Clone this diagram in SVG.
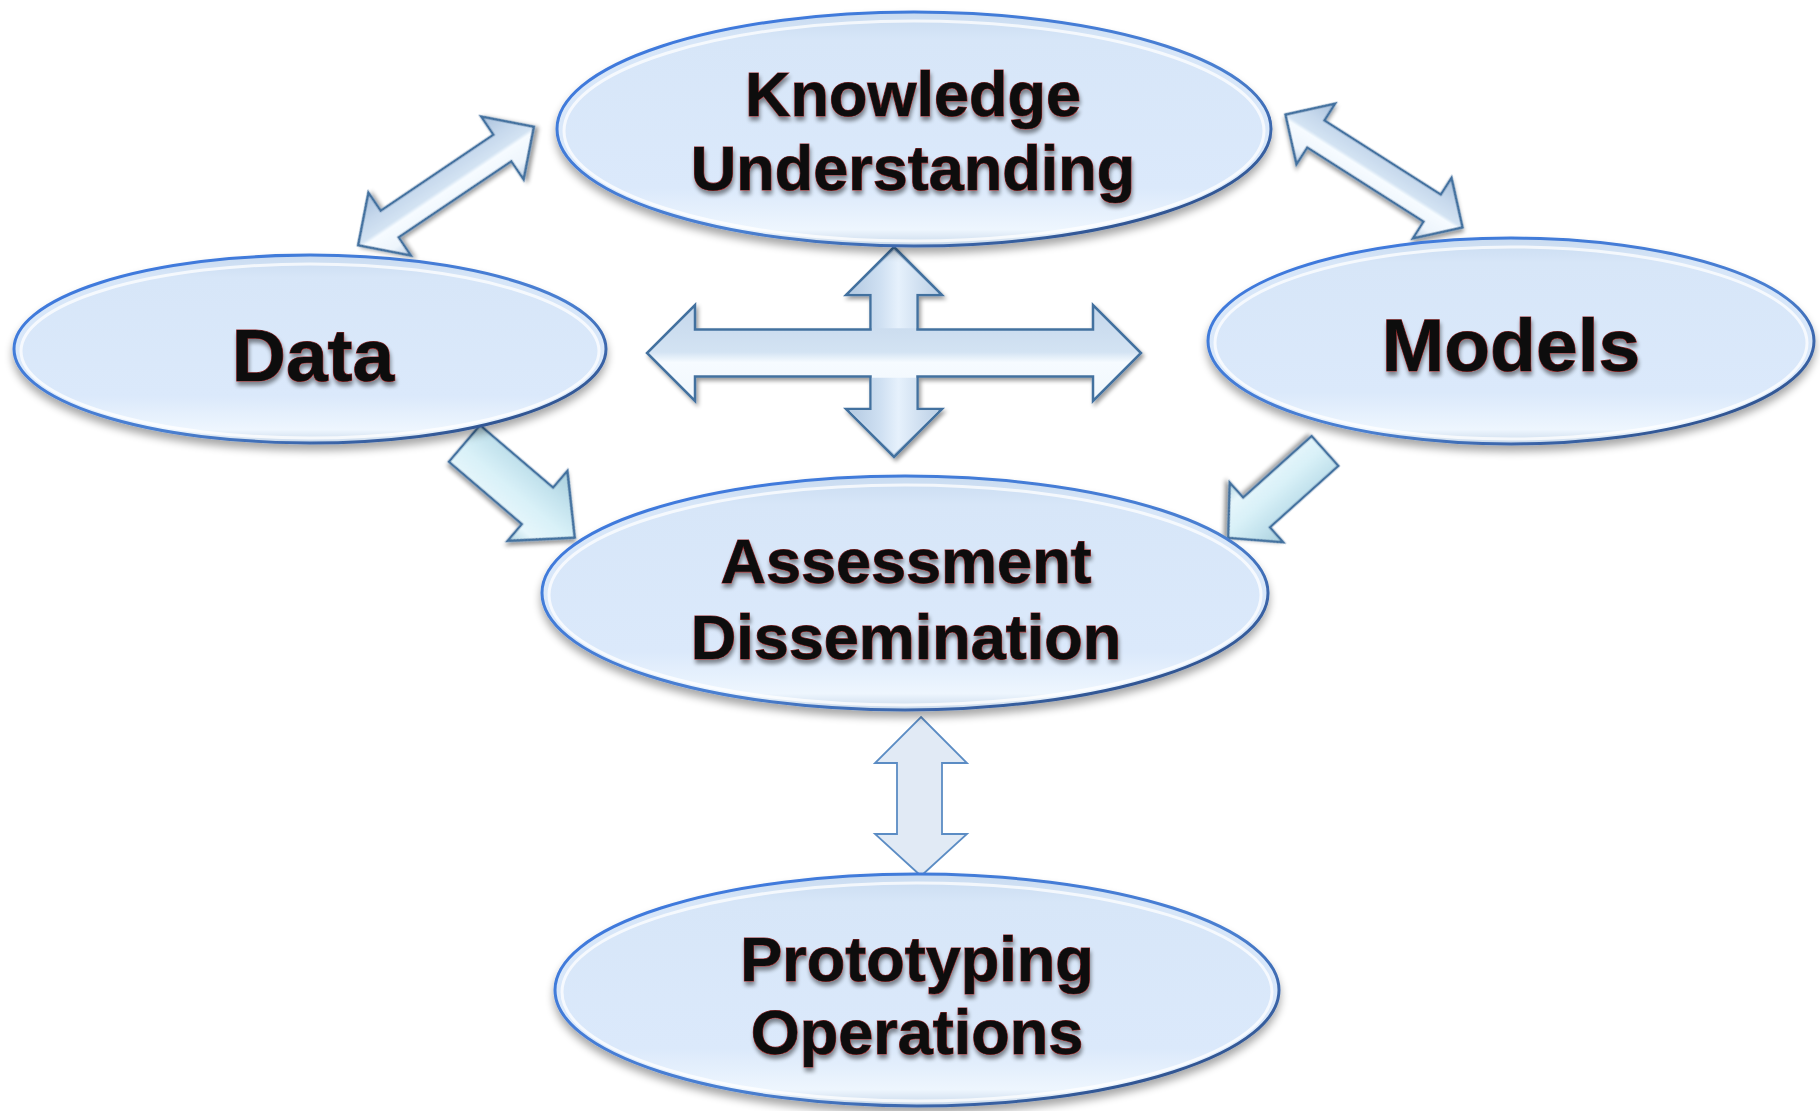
<svg xmlns="http://www.w3.org/2000/svg" width="1820" height="1111" viewBox="0 0 1820 1111">
  <defs>
    <style>
      .node-body { fill: url(#bodyFill); stroke: url(#rimStroke); stroke-width: 3; filter: url(#nodeShadow); }
      .node-rim { fill: none; stroke: #ffffff; stroke-opacity: 0.75; stroke-width: 3; }
      .label { font-family: "Liberation Sans", Arial, sans-serif; font-weight: bold; fill: #0e0e0e; stroke: #9c2a2a; stroke-width: 1.1; paint-order: stroke; text-anchor: middle; filter: url(#textShadow); }
      .big { font-size: 63px; }
      .huge { font-size: 75px; }
      .bevel { fill: url(#bevelBlue); stroke: #43719f; stroke-width: 2.5; stroke-linejoin: miter; filter: url(#arrowShadow); }
      .bevel-teal { fill: url(#bevelTeal); stroke: #43719f; stroke-width: 2.5; stroke-linejoin: miter; filter: url(#arrowShadow); }
      .arm { fill: url(#bevelSide); stroke: none; }
      .flat { fill: #e1eaf5; stroke: #5b8cc4; stroke-width: 1.8; stroke-linejoin: miter; }
    </style>
    <linearGradient id="bodyFill" x1="0" y1="0" x2="0" y2="1">
      <stop offset="0" stop-color="#c9dbf0"/>
      <stop offset="0.12" stop-color="#d7e6f8"/>
      <stop offset="0.75" stop-color="#dbe9fb"/>
      <stop offset="0.93" stop-color="#eef6fe"/>
      <stop offset="1" stop-color="#c8d8ea"/>
    </linearGradient>
    <linearGradient id="rimStroke" x1="0" y1="0" x2="1" y2="1">
      <stop offset="0" stop-color="#3b78e0"/>
      <stop offset="0.6" stop-color="#4a7fd0"/>
      <stop offset="1" stop-color="#243f70"/>
    </linearGradient>
    <linearGradient id="bevelBlue" x1="0" y1="0" x2="0" y2="1">
      <stop offset="0" stop-color="#a9c1dc"/>
      <stop offset="0.3" stop-color="#c6d8ec"/>
      <stop offset="0.5" stop-color="#d3e3f3"/>
      <stop offset="0.55" stop-color="#f6fbff"/>
      <stop offset="0.8" stop-color="#eef5fc"/>
      <stop offset="1" stop-color="#b8cde3"/>
    </linearGradient>
    <linearGradient id="bevelSide" x1="0" y1="0" x2="1" y2="0">
      <stop offset="0" stop-color="#b4cae2"/>
      <stop offset="0.35" stop-color="#cfe0f2"/>
      <stop offset="0.55" stop-color="#e6f1fc"/>
      <stop offset="1" stop-color="#bcd0e6"/>
    </linearGradient>
    <linearGradient id="bevelTeal" x1="0" y1="0" x2="0" y2="1">
      <stop offset="0" stop-color="#a9cfdc"/>
      <stop offset="0.3" stop-color="#c4e3ee"/>
      <stop offset="0.55" stop-color="#d9f1f8"/>
      <stop offset="0.8" stop-color="#e6f6fb"/>
      <stop offset="1" stop-color="#b3d5e2"/>
    </linearGradient>
    <filter id="nodeShadow" x="-10%" y="-10%" width="120%" height="130%">
      <feGaussianBlur in="SourceAlpha" stdDeviation="4"/>
      <feOffset dy="6" result="b"/>
      <feComponentTransfer><feFuncA type="linear" slope="0.35"/></feComponentTransfer>
      <feMerge><feMergeNode/><feMergeNode in="SourceGraphic"/></feMerge>
    </filter>
    <filter id="arrowShadow" x="-20%" y="-20%" width="140%" height="140%">
      <feGaussianBlur in="SourceAlpha" stdDeviation="2"/>
      <feOffset dx="2" dy="3" result="b"/>
      <feComponentTransfer><feFuncA type="linear" slope="0.4"/></feComponentTransfer>
      <feMerge><feMergeNode/><feMergeNode in="SourceGraphic"/></feMerge>
    </filter>
    <filter id="textShadow" x="-10%" y="-20%" width="120%" height="150%">
      <feGaussianBlur in="SourceAlpha" stdDeviation="2"/>
      <feOffset dx="1" dy="4" result="b"/>
      <feComponentTransfer><feFuncA type="linear" slope="0.45"/></feComponentTransfer>
      <feMerge><feMergeNode/><feMergeNode in="SourceGraphic"/></feMerge>
    </filter>
  </defs>

  <rect width="1820" height="1111" fill="#ffffff"/>

  <!-- connectors -->
  <g id="connectors">
    <!-- Data <-> Knowledge -->
    <path class="bevel" transform="translate(446,186) rotate(-34)"
          d="M-106,0 L-68,-38 L-68,-16 L68,-16 L68,-38 L106,0 L68,38 L68,16 L-68,16 L-68,38 Z"/>
    <!-- Knowledge <-> Models -->
    <path class="bevel" transform="translate(1374,171) rotate(32.5)"
          d="M-105,0 L-69,-36 L-69,-16 L69,-16 L69,-36 L105,0 L69,36 L69,16 L-69,16 L-69,36 Z"/>
    <!-- four-way cross in the middle -->
    <g id="cross">
      <path class="bevel"
            d="M894,247 L942,295 L917.5,295 L917.5,329.5 L1093,329.5 L1093,305 L1141,353 L1093,401 L1093,376.5 L917.5,376.5 L917.5,409 L942,409 L894,457 L846,409 L870.5,409 L870.5,376.5 L695,376.5 L695,401 L647,353 L695,305 L695,329.5 L870.5,329.5 L870.5,295 L846,295 Z"/>
      <!-- side-lit shading on the vertical arms -->
      <path class="arm" d="M894,250.5 L938.5,293.8 L916.2,293.8 L916.2,328.3 L871.8,328.3 L871.8,293.8 L849.5,293.8 Z"/>
      <path class="arm" d="M871.8,377.7 L916.2,377.7 L916.2,410.2 L938.5,410.2 L894,453.5 L849.5,410.2 L871.8,410.2 Z"/>
    </g>
    <!-- Data -> Assessment -->
    <path class="bevel-teal" transform="translate(464.5,443.5) rotate(40.5)"
          d="M0,-24 L96,-24 L96,-46 L145,0 L96,46 L96,24 L0,24 Z"/>
    <!-- Models -> Assessment -->
    <path class="bevel-teal" transform="translate(1325,451) rotate(138.1)"
          d="M0,-20 L92,-20 L92,-40 L130,0 L92,40 L92,20 L0,20 Z"/>
    <!-- Assessment <-> Prototyping -->
    <path class="flat"
          d="M921,717 L967,763 L942,763 L942,834 L967,834 L921,876 L875,834 L897,834 L897,763 L875,763 Z"/>
  </g>

  <!-- nodes -->
  <g id="node-knowledge">
    <ellipse class="node-body" cx="914" cy="129" rx="357" ry="117"/>
    <ellipse class="node-rim" cx="914" cy="131" rx="350" ry="110"/>
    <text class="label big" x="913" y="116">Knowledge</text>
    <text class="label big" x="913" y="190">Understanding</text>
  </g>

  <g id="node-data">
    <ellipse class="node-body" cx="310" cy="349" rx="296" ry="94"/>
    <ellipse class="node-rim" cx="310" cy="351" rx="289" ry="87"/>
    <text class="label huge" x="313" y="381">Data</text>
  </g>

  <g id="node-models">
    <ellipse class="node-body" cx="1511" cy="341" rx="303" ry="103"/>
    <ellipse class="node-rim" cx="1511" cy="343" rx="296" ry="96"/>
    <text class="label huge" x="1511" y="371">Models</text>
  </g>

  <g id="node-assessment">
    <ellipse class="node-body" cx="905" cy="593" rx="363" ry="117"/>
    <ellipse class="node-rim" cx="905" cy="595" rx="356" ry="110"/>
    <text class="label big" x="906" y="583">Assessment</text>
    <text class="label big" x="906" y="659">Dissemination</text>
  </g>

  <g id="node-prototyping">
    <ellipse class="node-body" cx="917" cy="990" rx="362" ry="116"/>
    <ellipse class="node-rim" cx="917" cy="992" rx="355" ry="109"/>
    <text class="label big" x="917" y="981">Prototyping</text>
    <text class="label big" x="917" y="1054">Operations</text>
  </g>
</svg>
